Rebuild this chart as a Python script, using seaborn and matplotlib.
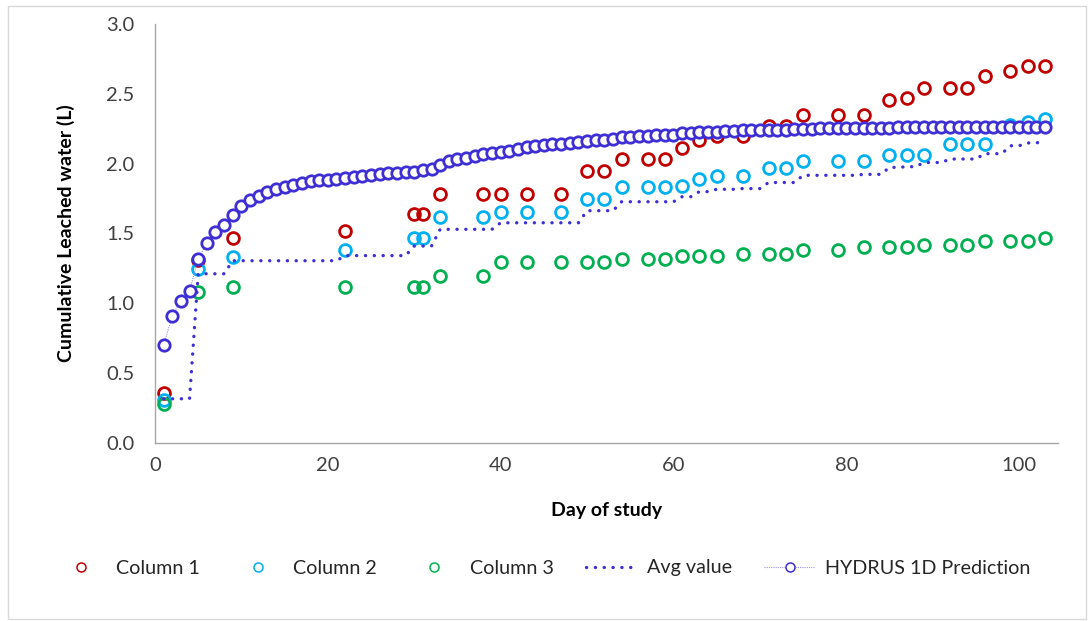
import numpy as np
import pandas as pd
import matplotlib
matplotlib.use("Agg")
import matplotlib.pyplot as plt
import seaborn as sns

# Sampling days and cumulative leachate per column (L)
days_obs = [1, 5, 9, 22, 30, 31, 33, 38, 40, 43, 47, 50, 52, 54, 57, 59, 61, 63,
            65, 68, 71, 73, 75, 79, 82, 85, 87, 89, 92, 94, 96, 99, 101, 103]
column1 = [0.36, 1.31, 1.47, 1.52, 1.64, 1.64, 1.78, 1.78, 1.78, 1.78, 1.78, 1.95,
           1.95, 2.035, 2.035, 2.035, 2.11, 2.17, 2.20, 2.20, 2.27, 2.27, 2.35, 2.35,
           2.35, 2.455, 2.47, 2.54, 2.54, 2.54, 2.63, 2.665, 2.70, 2.70]
column2 = [0.31, 1.245, 1.33, 1.385, 1.47, 1.47, 1.615, 1.615, 1.655, 1.655, 1.655,
           1.745, 1.745, 1.83, 1.83, 1.83, 1.84, 1.89, 1.91, 1.91, 1.97, 1.97, 2.02,
           2.02, 2.02, 2.065, 2.065, 2.065, 2.14, 2.14, 2.14, 2.275, 2.30, 2.32]
column3 = [0.28, 1.08, 1.115, 1.12, 1.12, 1.12, 1.195, 1.195, 1.295, 1.295, 1.295,
           1.295, 1.295, 1.317, 1.317, 1.317, 1.34, 1.34, 1.34, 1.355, 1.355, 1.355,
           1.38, 1.38, 1.40, 1.40, 1.40, 1.42, 1.42, 1.42, 1.445, 1.445, 1.445, 1.47]

# HYDRUS-1D daily simulated cumulative leachate, days 1..103
hydrus_days = list(range(1, 104))
hydrus = [0.70, 0.91, 1.02, 1.09, 1.32, 1.43, 1.51, 1.56, 1.635, 1.70,
          1.74, 1.77, 1.80, 1.82, 1.83, 1.85, 1.86, 1.875, 1.88, 1.88,
          1.89, 1.90, 1.905, 1.913, 1.92, 1.923, 1.93, 1.93, 1.94, 1.94,
          1.955, 1.965, 1.99, 2.02, 2.03, 2.042, 2.054, 2.068, 2.076, 2.083,
          2.092, 2.107, 2.119, 2.128, 2.133, 2.14, 2.14, 2.145, 2.155, 2.164,
          2.171, 2.17, 2.178, 2.188, 2.193, 2.195, 2.20, 2.205, 2.207, 2.207,
          2.217, 2.22, 2.228, 2.228, 2.23, 2.235, 2.235, 2.238, 2.24, 2.24,
          2.24, 2.24, 2.243, 2.245, 2.245, 2.245, 2.255, 2.255, 2.253, 2.253,
          2.253, 2.253, 2.253, 2.253, 2.258, 2.262, 2.262, 2.262, 2.262, 2.262,
          2.262, 2.262, 2.262, 2.262, 2.262, 2.262, 2.262, 2.262, 2.262, 2.262,
          2.262, 2.262, 2.262]

x_ticks = [0, 20, 40, 60, 80, 100]
y_ticks = [0.0, 0.5, 1.0, 1.5, 2.0, 2.5, 3.0]

# Mean of the three columns, carried forward between sampling days
obs = pd.DataFrame({"day": days_obs, "c1": column1, "c2": column2, "c3": column3})
obs["avg"] = obs[["c1", "c2", "c3"]].mean(axis=1)
avg_daily = (obs.set_index("day")["avg"]
             .reindex(range(days_obs[0], days_obs[-1] + 1)).ffill()
             .rename_axis("day").reset_index())

sns.set_theme(style="white")
plt.rcParams["font.family"] = ["Lato", "DejaVu Sans"]

fig = plt.figure(figsize=(10.92, 6.21), dpi=100)
ax = fig.add_axes([155 / 1092, 1 - 443 / 621, (1058 - 155) / 1092, (443 - 24) / 621])

RED, CYAN, GREEN = "#C00000", "#00B0F0", "#00B050"
PURPLE = "#3D2FD4"

common = dict(marker="o", linestyle="none", markersize=8.5, markeredgewidth=2,
              markerfacecolor="none", ax=ax)
sns.lineplot(x=days_obs, y=column1, markeredgecolor=RED, color=RED, label="Column 1", **common)
sns.lineplot(x=days_obs, y=column2, markeredgecolor=CYAN, color=CYAN, label="Column 2", **common)
sns.lineplot(x=days_obs, y=column3, markeredgecolor=GREEN, color=GREEN, label="Column 3", **common)

sns.lineplot(data=avg_daily, x="day", y="avg", ax=ax, color=PURPLE, linewidth=2.4,
             linestyle=(0, (0.05, 2.6)), dash_capstyle="round", label="Avg value")

sns.lineplot(x=hydrus_days, y=hydrus, ax=ax, color="#9C93EA", linewidth=0.8,
             linestyle=(0, (1, 1)), marker="o", markersize=8.2, markeredgewidth=2,
             markeredgecolor=PURPLE, markerfacecolor="white",
             label="HYDRUS 1D Prediction", zorder=3)

ax.set_xlim(0, 104.5)
ax.set_ylim(0, 3.0)
ax.set_xticks(x_ticks)
ax.set_yticks(y_ticks)
ax.set_yticklabels([f"{v:.1f}" for v in y_ticks])
ax.tick_params(axis="both", length=0, labelsize=14.5, labelcolor="#404040")
ax.tick_params(axis="x", pad=10)
ax.tick_params(axis="y", pad=15)

for side in ["top", "right"]:
    ax.spines[side].set_visible(False)
for side in ["left", "bottom"]:
    ax.spines[side].set_color("#A6A6A6")
    ax.spines[side].set_linewidth(1.0)

ax.set_xlabel("Day of study", fontsize=14, fontweight="bold", color="black", labelpad=20)
ax.set_ylabel("Cumulative Leached water (L)", fontsize=14, fontweight="bold",
              color="black", labelpad=22)

ax.get_legend().remove()
handles, labels = ax.get_legend_handles_labels()
leg = fig.legend(handles, labels, loc="center", bbox_to_anchor=(0.497, 1 - 568 / 621),
                 ncol=5, frameon=False, fontsize=14.2, columnspacing=1.62,
                 handlelength=2.6, handletextpad=0.5, labelcolor="#262626")
for h in leg.legend_handles:
    h.set_markersize(6.5)
    h.set_markeredgewidth(1.1)

# Chart area border
fig.patches.append(plt.Rectangle((8 / 1092, 2 / 621), 1 - 14 / 1092, 1 - 8 / 621,
                                 transform=fig.transFigure, fill=False,
                                 edgecolor="#D9D9D9", linewidth=1.0))

fig.savefig("out.png", dpi=100)
